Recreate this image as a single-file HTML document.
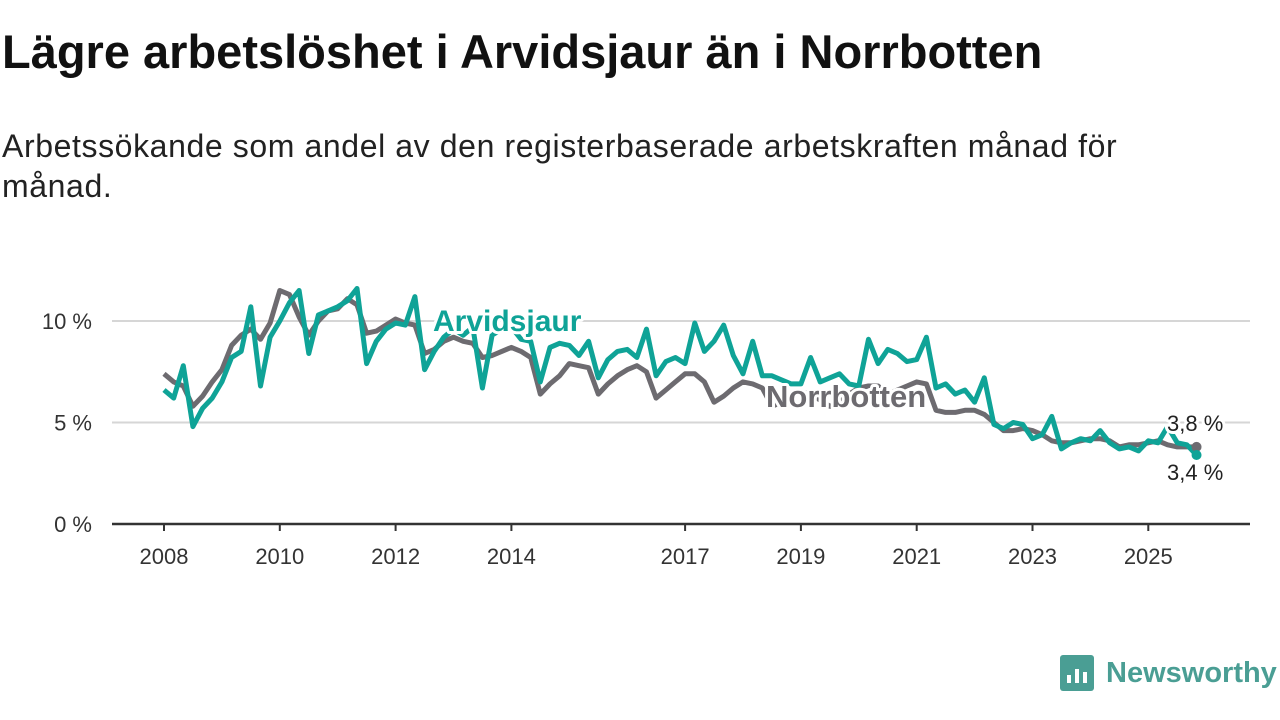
<!DOCTYPE html>
<html><head><meta charset="utf-8">
<style>
body{margin:0;width:1280px;height:720px;background:#fff;font-family:"Liberation Sans",sans-serif;overflow:hidden;position:relative}
#title{position:absolute;left:2px;top:24px;font-size:47px;font-weight:bold;color:#111;margin:0;white-space:nowrap}
#sub{position:absolute;left:2px;top:126px;font-size:32px;letter-spacing:0.6px;color:#222;line-height:40px;margin:0;width:1180px}
svg{position:absolute;left:0;top:0}
</style></head><body>
<h1 id="title">Lägre arbetslöshet i Arvidsjaur än i Norrbotten</h1>
<p id="sub">Arbetssökande som andel av den registerbaserade arbetskraften månad för månad.</p>
<svg id="chart" width="1280" height="720"></svg>
<div style="position:absolute;left:1060px;top:655px;display:flex;align-items:center;gap:12px">
<div style="width:34px;height:36px;background:#4a9e94;border-radius:3px;position:relative">
<div style="position:absolute;left:7px;bottom:8px;width:4px;height:8px;background:#fff"></div>
<div style="position:absolute;left:15px;bottom:8px;width:4px;height:14px;background:#fff"></div>
<div style="position:absolute;left:23px;bottom:8px;width:4px;height:11px;background:#fff"></div></div>
<span style="font-size:29px;font-weight:bold;color:#4a9e94">Newsworthy</span></div>
<script>
const norrbotten=[7.4,7.0,6.8,5.8,6.3,7.0,7.6,8.8,9.3,9.6,9.1,9.9,11.5,11.3,10.2,9.3,10.0,10.5,10.6,11.1,10.8,9.4,9.5,9.8,10.1,9.9,9.8,8.4,8.6,9.0,9.2,9.0,8.9,8.2,8.3,8.5,8.7,8.5,8.2,6.4,6.9,7.3,7.9,7.8,7.7,6.4,6.9,7.3,7.6,7.8,7.5,6.2,6.6,7.0,7.4,7.4,7.0,6.0,6.3,6.7,7.0,6.9,6.7,5.8,6.0,6.3,6.5,6.4,6.1,5.8,6.0,6.4,6.7,6.8,6.8,6.4,6.6,6.8,7.0,6.9,5.6,5.5,5.5,5.6,5.6,5.4,5.0,4.6,4.6,4.7,4.6,4.4,4.1,4.0,4.0,4.1,4.2,4.2,4.1,3.8,3.9,3.9,4.0,4.1,3.9,3.8,3.8,3.8];
const arvidsjaur=[6.6,6.2,7.8,4.8,5.7,6.2,7.0,8.2,8.5,10.7,6.8,9.2,10.0,10.9,11.5,8.4,10.3,10.5,10.7,11.0,11.6,7.9,9.0,9.6,9.9,9.8,11.2,7.6,8.5,9.2,9.6,9.3,9.7,6.7,9.3,9.6,9.7,9.1,9.0,7.0,8.7,8.9,8.8,8.3,9.0,7.2,8.1,8.5,8.6,8.2,9.6,7.3,8.0,8.2,7.9,9.9,8.5,9.0,9.8,8.3,7.4,9.0,7.3,7.3,7.1,6.9,6.9,8.2,7.0,7.2,7.4,6.9,6.8,9.1,7.9,8.6,8.4,8.0,8.1,9.2,6.7,6.9,6.4,6.6,6.0,7.2,4.9,4.7,5.0,4.9,4.2,4.4,5.3,3.7,4.0,4.2,4.1,4.6,4.0,3.7,3.8,3.6,4.1,4.0,4.8,4.0,3.9,3.4];
const yTicks=[0,5,10];
const yTickLabels=["0 %","5 %","10 %"];
const xTicks=[2008,2010,2012,2014,2017,2019,2021,2023,2025];
const startYear=2008, step=1/6;
const NS="http://www.w3.org/2000/svg";
const svg=document.getElementById('chart');
const X=yr=>164+(yr-2008)*57.9;
const Y=v=>524-v*20.3;
function mk(tag,attrs,parent){const e=document.createElementNS(NS,tag);for(const k in attrs)e.setAttribute(k,attrs[k]);(parent||svg).appendChild(e);return e;}
yTicks.forEach((t,i)=>{
 if(t>0){const g=mk('line',{x1:112,x2:1250,y1:Y(t),y2:Y(t),stroke:'#d6d6d6','stroke-width':2});
 
 }
 const l=mk('text',{x:92,y:Y(t)+8,'text-anchor':'end','font-size':22,fill:'#333'});l.textContent=yTickLabels[i];
 
 
});
const ax=mk('line',{x1:112,x2:1250,y1:524,y2:524,stroke:'#333','stroke-width':2.5});


xTicks.forEach(t=>{
 const tk=mk('line',{x1:X(t),x2:X(t),y1:524,y2:531,stroke:'#333','stroke-width':2});
 
 
 const l=mk('text',{x:X(t),y:564,'text-anchor':'middle','font-size':22,fill:'#333'});l.textContent=t;
 
 
});
function pts(arr){return arr.map((v,i)=>X(startYear+i*step).toFixed(1)+','+Y(v).toFixed(1)).join(' ');}
const ln=mk('polyline',{points:pts(norrbotten),fill:'none',stroke:'#6d6b70','stroke-width':5,'stroke-linejoin':'round'});


const la=mk('polyline',{points:pts(arvidsjaur),fill:'none',stroke:'#0fa397','stroke-width':5,'stroke-linejoin':'round'});


const lastX=X(startYear+(norrbotten.length-1)*step);
const d1=mk('circle',{cx:lastX,cy:Y(norrbotten[norrbotten.length-1]),r:5,fill:'#6d6b70'});


const d2=mk('circle',{cx:lastX,cy:Y(arvidsjaur[arvidsjaur.length-1]),r:5,fill:'#0fa397'});


function lab(txt,x,y,fill,size,bold,name){
 const h=mk('text',{x:x,y:y,'font-size':size,'font-weight':bold?'bold':'normal',fill:'#fff',stroke:'#fff','stroke-width':6,'stroke-linejoin':'round'});h.textContent=txt;
 
 
 const t=mk('text',{x:x,y:y,'font-size':size,'font-weight':bold?'bold':'normal',fill:fill});t.textContent=txt;
 
 
}
lab('Arvidsjaur',433,331,'#0fa397',30,true,'arvidsjaur-label');
lab('Norrbotten',766,407,'#6d6b70',31,true,'norrbotten-label');
lab('3,8 %',1167,431,'#222',22,false,'norrbotten-end-value');
lab('3,4 %',1167,480,'#222',22,false,'arvidsjaur-end-value');
</script>
</body></html>
